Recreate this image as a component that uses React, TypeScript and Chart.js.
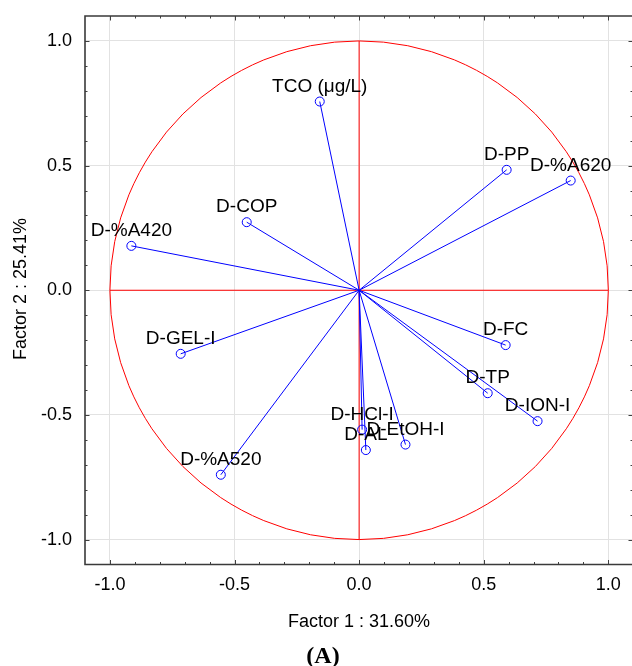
import React, { useEffect, useRef } from 'react';
import { Chart, registerables } from 'chart.js';

Chart.register(...registerables);

// ---- data ----
const variableNames = [
  'TCO (μg/L)', 'D-PP', 'D-%A620', 'D-COP', 'D-%A420', 'D-GEL-I', 'D-%A520',
  'D-FC', 'D-TP', 'D-ION-I', 'D-HCl-I', 'D-AL', 'D-EtOH-I',
];
const factor1 = [-0.158, 0.592, 0.849, -0.451, -0.914, -0.716, -0.555, 0.588, 0.516, 0.716, 0.012, 0.027, 0.186];
const factor2 = [0.757, 0.483, 0.440, 0.273, 0.178, -0.255, -0.740, -0.220, -0.413, -0.525, -0.559, -0.641, -0.619];
const axisTicks = [-1, -0.5, 0, 0.5, 1];
const xTitle = 'Factor 1 : 31.60%';
const yTitle = 'Factor 2 : 25.41%';
const caption = '(A)';

const FONT = '"Liberation Sans", Arial, Helvetica, sans-serif';
const SERIF = '"Liberation Serif", "Times New Roman", serif';

const pcaPlugin = {
  id: 'pcaDecor',
  beforeDatasetsDraw(chart: any) {
    const { ctx, scales } = chart;
    const x = scales.x, y = scales.y;
    const cx = x.getPixelForValue(0), cy = y.getPixelForValue(0);
    const rx = x.getPixelForValue(1) - cx, ry = cy - y.getPixelForValue(1);
    ctx.save();
    ctx.strokeStyle = '#ff0000';
    ctx.lineWidth = 1;
    ctx.beginPath();
    ctx.ellipse(cx, cy, rx, ry, 0, 0, Math.PI * 2);
    ctx.stroke();
    ctx.beginPath();
    ctx.moveTo(x.getPixelForValue(-1), cy);
    ctx.lineTo(x.getPixelForValue(1), cy);
    ctx.moveTo(cx, y.getPixelForValue(1));
    ctx.lineTo(cx, y.getPixelForValue(-1));
    ctx.stroke();
    ctx.restore();
  },
  afterDatasetsDraw(chart: any) {
    const { ctx, scales } = chart;
    const x = scales.x, y = scales.y;
    ctx.save();
    ctx.font = `19px ${FONT}`;
    ctx.fillStyle = '#000';
    ctx.textAlign = 'center';
    ctx.textBaseline = 'alphabetic';
    variableNames.forEach((name, i) => {
      const px = x.getPixelForValue(factor1[i]);
      const py = y.getPixelForValue(factor2[i]);
      ctx.fillText(name, px, py - 10);
    });
    ctx.restore();
  },
  afterDraw(chart: any) {
    const { ctx, chartArea, scales } = chart;
    const x = scales.x, y = scales.y;
    const { left, right, top, bottom } = chartArea;
    ctx.save();
    ctx.strokeStyle = '#404040';
    ctx.lineWidth = 1;
    // minor / major tick marks (inward) on all four sides
    ctx.beginPath();
    for (let k = -10; k <= 10; k++) {
      const v = k / 10;
      const len = k % 5 === 0 ? 4.5 : 2.5;
      const px = Math.round(x.getPixelForValue(v)) + 0.5;
      ctx.moveTo(px, bottom); ctx.lineTo(px, bottom - len);
      ctx.moveTo(px, top); ctx.lineTo(px, top + len);
      const py = Math.round(y.getPixelForValue(v)) + 0.5;
      ctx.moveTo(left, py); ctx.lineTo(left + len, py);
      ctx.moveTo(right + 1, py); ctx.lineTo(right + 1 - len, py);
    }
    ctx.stroke();
    // frame: left, top, bottom (right edge lies at the canvas border)
    ctx.lineWidth = 1.6;
    ctx.strokeStyle = '#3a3a3a';
    ctx.beginPath();
    ctx.moveTo(right + 2, top);
    ctx.lineTo(left, top);
    ctx.lineTo(left, bottom);
    ctx.lineTo(right + 2, bottom);
    ctx.stroke();
    // axis titles
    ctx.fillStyle = '#000';
    ctx.font = `18px ${FONT}`;
    ctx.textAlign = 'center';
    ctx.textBaseline = 'alphabetic';
    ctx.fillText(xTitle, 359, 627);
    ctx.save();
    ctx.translate(26, 289);
    ctx.rotate(-Math.PI / 2);
    ctx.fillText(yTitle, 0, 0);
    ctx.restore();
    // caption
    ctx.font = `bold 24px ${SERIF}`;
    ctx.fillText(caption, 323, 663);
    ctx.restore();
  },
};

const zeroPadding = (s: any) => {
  s.paddingTop = 0;
  s.paddingBottom = 0;
  s.paddingLeft = 0;
  s.paddingRight = 0;
};

export default function App() {
  const ref = useRef<HTMLCanvasElement>(null);
  useEffect(() => {
    const canvas = ref.current!;
    const datasets = variableNames.map((name, i) => ({
      label: name,
      data: [{ x: 0, y: 0 }, { x: factor1[i], y: factor2[i] }],
      showLine: true,
      borderColor: '#0000ff',
      borderWidth: 1,
      pointRadius: [0, 4.5],
      pointHoverRadius: [0, 4.5],
      pointBorderColor: '#0000ff',
      pointBackgroundColor: 'rgba(0,0,0,0)',
      pointBorderWidth: 1,
      fill: false,
    }));
    const tickOpts = {
      color: '#000',
      font: { family: FONT, size: 18 },
      callback: (v: number) => Number(v).toFixed(1),
    };
    const chart = new Chart(canvas, {
      type: 'scatter',
      data: { datasets },
      plugins: [pcaPlugin],
      options: {
        responsive: false,
        devicePixelRatio: 1,
        animation: false,
        layout: { autoPadding: false, padding: { top: 16, right: 0, left: 0, bottom: 0 } },
        plugins: { legend: { display: false }, tooltip: { enabled: false } },
        events: [],
        scales: {
          x: {
            type: 'linear',
            min: -1.1,
            max: 1.095,
            afterBuildTicks: (s: any) => { s.ticks = axisTicks.map((v) => ({ value: v })); },
            afterFit: (s: any) => { s.height = 666 - 564.5; zeroPadding(s); },
            grid: { color: '#e2e2e2', lineWidth: 1, drawTicks: false },
            border: { display: false },
            ticks: { ...tickOpts, padding: 10, maxRotation: 0 },
          },
          y: {
            type: 'linear',
            min: -1.1,
            max: 1.1,
            afterBuildTicks: (s: any) => { s.ticks = axisTicks.map((v) => ({ value: v })); },
            afterFit: (s: any) => { s.width = 85; zeroPadding(s); },
            grid: { color: '#e2e2e2', lineWidth: 1, drawTicks: false },
            border: { display: false },
            ticks: { ...tickOpts, padding: 13 },
          },
        },
      } as any,
    });
    return () => chart.destroy();
  }, []);
  return (
    <div style={{ position: 'fixed', left: 0, top: 0, width: 632, height: 666, background: '#fff' }}>
      <canvas ref={ref} width={632} height={666} style={{ display: 'block' }} />
    </div>
  );
}
